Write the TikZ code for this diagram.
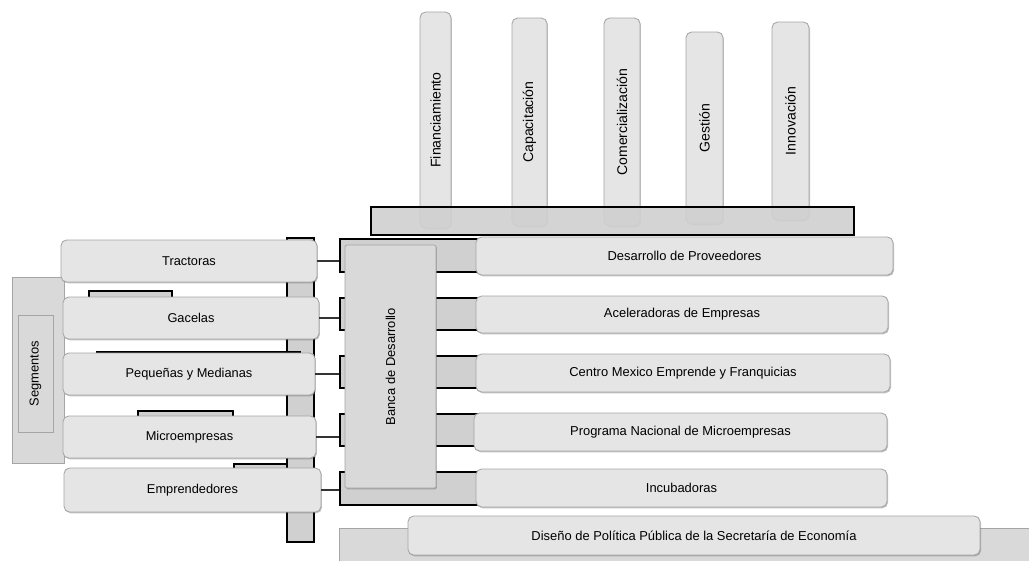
\documentclass[tikz,border=0pt]{standalone}
\usepackage{fontspec}
\setmainfont{Liberation Sans}
\definecolor{boxgray}{RGB}{229,229,229}
\definecolor{edgegray}{RGB}{165,165,165}
\definecolor{bargray}{RGB}{208,208,208}
\definecolor{bankgray}{RGB}{217,217,217}
\usetikzlibrary{fit, shadows}
\tikzset{
	tab/.style={rectangle, rounded corners=4pt, draw=edgegray, fill=boxgray, line width=0.6pt, inner sep=0pt, drop shadow={shadow xshift=0.7pt, shadow yshift=-0.9pt, opacity=0.35, fill=black!70}},
	seg/.style={tab, label={[font=\fontsize{9.1}{11}\selectfont]center:#1}},
	prog/.style={tab, label={[font=\fontsize{9.2}{11}\selectfont]center:#1}},
	bar/.style={rectangle, draw=black, fill=bargray, line width=1.1pt, inner sep=0pt},
	panel/.style={rectangle, draw=edgegray, fill=bankgray, line width=0.6pt, inner sep=0pt},
	vlabel/.style={rotate=90, inner sep=0pt, font=\fontsize{9.2}{11}\selectfont},
	plabel/.style={vlabel, font=\fontsize{10}{12}\selectfont},
	link/.style={line width=1.5pt, draw=black!80},
}

\begin{document}
\begin{tikzpicture}[x=0.025cm, y=-0.025cm]
		\useasboundingbox (0,0) rectangle (1029,560);
		% pilares de apoyo
		\node[tab, fit={(420,12) (451,228)}] (fin) {};
		\node[tab, fit={(512,18) (547,226)}] (cap) {};
		\node[tab, fit={(604,18) (640,226)}] (com) {};
		\node[tab, fit={(686,32) (723,224)}] (ges) {};
		\node[tab, fit={(772,22) (809,220)}] (inn) {};
		\node[plabel] (fin-l) at (fin.center) {Financiamiento};
		\node[plabel] (cap-l) at (cap.center) {Capacitación};
		\node[plabel] (com-l) at (com.center) {Comercialización};
		\node[plabel] (ges-l) at (ges.center) {Gestión};
		\node[plabel] (inn-l) at (inn.center) {Innovación};
		\node[bar, fill opacity=0.92, fit={(371,207) (854,235)}] (base) {};
		% columna y segmentos
		\node[bar, fit={(287,238) (314,542)}] (column) {};
		\node[bar, line width=0.9pt, fit={(89,291) (172,312)}] (back1) {};
		\node[bar, line width=0.9pt, fit={(97,352) (300,372)}] (back2) {};
		\node[bar, line width=0.9pt, fit={(138,411) (233,430)}] (back3) {};
		\node[bar, line width=0.9pt, fit={(234,464) (287,484)}] (back4) {};
		\node[panel, fit={(12,277) (64,463)}] (segbox) {};
		\node[panel, fit={(18,315) (53,432)}] (seginner) {};
		\node[vlabel] (seg-l) at (seginner.center) {Segmentos};
		\node[seg=Tractoras, fit={(61,240) (317,282)}] (tractoras) {};
		\node[seg=Gacelas, fit={(63,297) (319,339)}] (gacelas) {};
		\node[seg=Pequeñas y Medianas, fit={(63,353) (315,395)}] (pymes) {};
		\node[seg=Microempresas, fit={(63,416) (316,458)}] (micro) {};
		\node[seg=Emprendedores, fit={(64,468) (321,512)}] (empr) {};
		% programas
		\node[bar, fit={(340,239) (540,272)}] (row1) {};
		\node[bar, fit={(340,298) (540,330)}] (row2) {};
		\node[bar, fit={(340,356) (540,388)}] (row3) {};
		\node[bar, fit={(340,414) (540,446)}] (row4) {};
		\node[bar, fit={(340,472) (540,505)}] (row5) {};
		\node[prog=Desarrollo de Proveedores, fit={(476,237) (893,275)}] (prov) {};
		\node[prog=Aceleradoras de Empresas, fit={(476,296) (888,333)}] (acel) {};
		\node[prog=Centro Mexico Emprende y Franquicias, fit={(476,354) (890,392)}] (centro) {};
		\node[prog=Programa Nacional de Microempresas, fit={(474,413) (887,451)}] (pronam) {};
		\node[prog=Incubadoras, fit={(476,469) (887,507)}] (incub) {};
		\node[panel, rounded corners=1pt, drop shadow={shadow xshift=0.7pt, shadow yshift=-0.9pt, opacity=0.35, fill=black!70}, fit={(345,245) (436,488)}] (banca) {};
		\node[vlabel] (banca-l) at (banca.center) {Banca de Desarrollo};
		% politica publica
		\node[panel, fit={(339,528) (1040,570)}] (floor) {};
		\node[prog=Diseño de Política Pública de la Secretaría de Economía, fit={(408,516) (980,555)}] (dise) {};
		% enlaces
		\draw[link] (tractoras.east) -- (tractoras.east -| row1.west);
		\draw[link] (gacelas.east) -- (gacelas.east -| row2.west);
		\draw[link] (pymes.east) -- (pymes.east -| row3.west);
		\draw[link] (micro.east) -- (micro.east -| row4.west);
		\draw[link] (empr.east) -- (empr.east -| row5.west);
	\end{tikzpicture}
\end{document}
